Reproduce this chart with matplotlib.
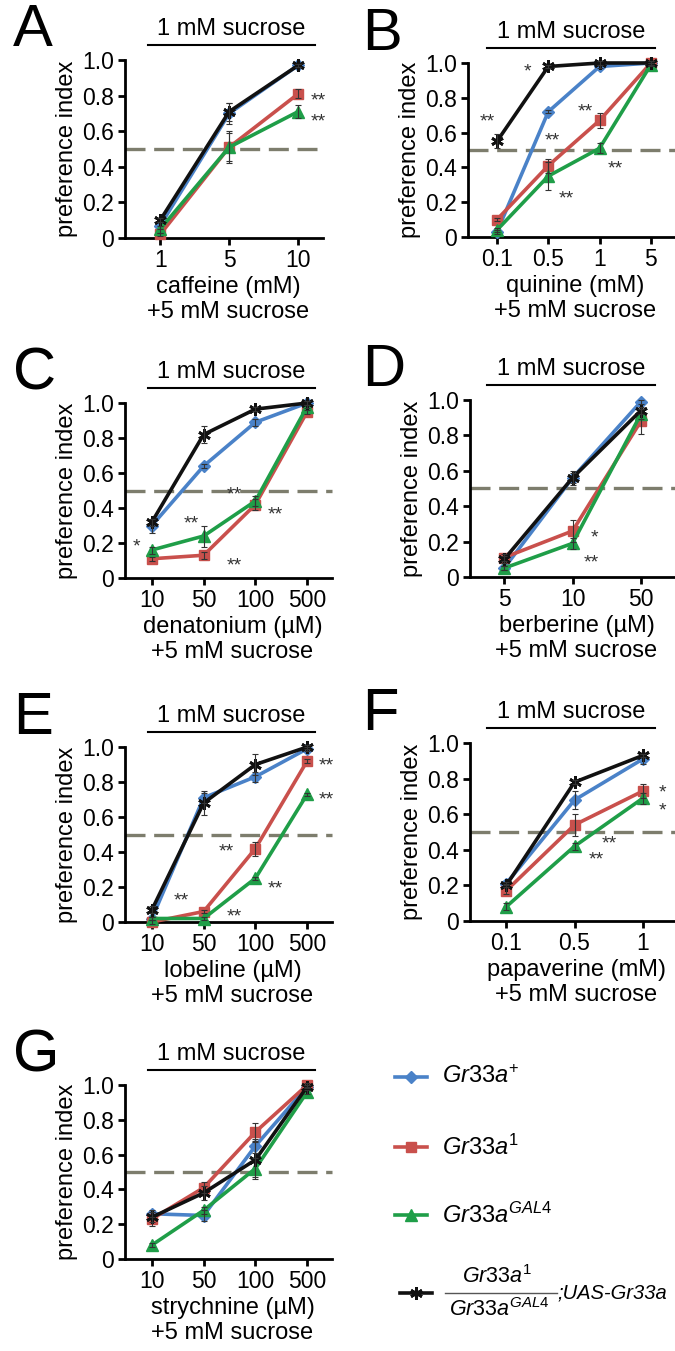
import numpy as np
import matplotlib
matplotlib.use('Agg')
import matplotlib.pyplot as plt

plt.rcParams['font.family'] = ['Liberation Sans', 'DejaVu Sans']
plt.rcParams['mathtext.fontset'] = 'custom'
plt.rcParams['mathtext.it'] = 'Liberation Sans:italic'
plt.rcParams['mathtext.rm'] = 'Liberation Sans'

W, H = 675, 1351

# colours of the four genotypes
c_wt, c_m1, c_gal4, c_res = '#4a82c8', '#c9504c', '#1f9e48', '#111111'

# ---- data (preference index), order: Gr33a+, Gr33a1, Gr33aGAL4, rescue ----
caf_doses = ['1', '5', '10']
caf_wt = [0.07, 0.70, 0.97]
caf_m1 = [0.02, 0.51, 0.81]
caf_gal4 = [0.05, 0.51, 0.71]
caf_res = [0.10, 0.71, 0.97]
caf_sem = [[0.02, 0.06, 0.01], [0.01, 0.09, 0.025], [0.02, 0.08, 0.035], [0.01, 0.05, 0.01]]

qui_doses = ['0.1', '0.5', '1', '5']
qui_wt = [0.03, 0.72, 0.98, 1.0]
qui_m1 = [0.10, 0.41, 0.67, 1.0]
qui_gal4 = [0.04, 0.35, 0.51, 0.99]
qui_res = [0.55, 0.98, 1.0, 1.0]
qui_sem = [[0.01, 0.01, 0.01, 0.0], [0.01, 0.04, 0.045, 0.01], [0.01, 0.08, 0.03, 0.01], [0.04, 0.01, 0.01, 0.01]]

den_doses = ['10', '50', '100', '500']
den_wt = [0.30, 0.64, 0.89, 1.0]
den_m1 = [0.11, 0.13, 0.42, 0.95]
den_gal4 = [0.16, 0.24, 0.44, 0.98]
den_res = [0.32, 0.82, 0.965, 1.0]
den_sem = [[0.04, 0.01, 0.02, 0.01], [0.01, 0.02, 0.03, 0.01], [0.02, 0.06, 0.03, 0.01], [0.02, 0.05, 0.01, 0.01]]

ber_doses = ['5', '10', '50']
ber_wt = [0.05, 0.56, 0.99]
ber_m1 = [0.11, 0.26, 0.88]
ber_gal4 = [0.05, 0.19, 0.92]
ber_res = [0.10, 0.56, 0.94]
ber_sem = [[0.01, 0.03, 0.01], [0.02, 0.06, 0.07], [0.01, 0.03, 0.03], [0.02, 0.04, 0.02]]

lob_doses = ['10', '50', '100', '500']
lob_wt = [0.02, 0.71, 0.83, 0.99]
lob_m1 = [0.0, 0.06, 0.42, 0.92]
lob_gal4 = [0.02, 0.02, 0.25, 0.73]
lob_res = [0.07, 0.68, 0.90, 1.0]
lob_sem = [[0.01, 0.03, 0.03, 0.01], [0.01, 0.01, 0.04, 0.01], [0.01, 0.01, 0.01, 0.01], [0.02, 0.07, 0.06, 0.01]]

pap_doses = ['0.1', '0.5', '1']
pap_wt = [0.21, 0.68, 0.91]
pap_m1 = [0.17, 0.54, 0.73]
pap_gal4 = [0.08, 0.42, 0.69]
pap_res = [0.20, 0.78, 0.93]
pap_sem = [[0.01, 0.05, 0.03], [0.02, 0.06, 0.04], [0.02, 0.02, 0.03], [0.01, 0.01, 0.01]]

str_doses = ['10', '50', '100', '500']
str_wt = [0.26, 0.25, 0.65, 0.99]
str_m1 = [0.23, 0.41, 0.73, 1.0]
str_gal4 = [0.08, 0.28, 0.52, 0.96]
str_res = [0.24, 0.38, 0.57, 0.99]
str_sem = [[0.02, 0.03, 0.04, 0.01], [0.04, 0.03, 0.05, 0.01], [0.01, 0.02, 0.06, 0.01], [0.03, 0.04, 0.10, 0.01]]

# significance marks (x in category index, y in preference index)
caf_stars = [(2.29, 0.77, '**'), (2.29, 0.65, '**')]
qui_stars = [(-0.19, 0.66, '**'), (0.60, 0.95, '*'), (1.07, 0.55, '**'),
             (1.72, 0.72, '**'), (2.30, 0.39, '**'), (1.36, 0.22, '**')]
den_stars = [(-0.29, 0.18, '*'), (0.77, 0.31, '**'), (1.6, 0.475, '**'),
             (2.38, 0.36, '**'), (1.6, 0.066, '**')]
ber_stars = [(1.32, 0.22, '*'), (1.27, 0.08, '**')]
lob_stars = [(3.37, 0.89, '**'), (3.37, 0.70, '**'), (1.43, 0.40, '**'),
             (2.38, 0.19, '**'), (0.57, 0.12, '**'), (1.6, 0.03, '**')]
pap_stars = [(2.29, 0.72, '*'), (2.29, 0.62, '*'), (1.51, 0.43, '**'), (1.32, 0.345, '**')]
str_stars = []

# ---- layout: letter, axes box in px (left, top, right, bottom), xlim ----
panels = [
    ('A', (125, 60, 323, 238), (-0.51, 2.36), caf_doses, [caf_wt, caf_m1, caf_gal4, caf_res], caf_sem, 'caffeine (mM)', caf_stars),
    ('B', (468, 63, 675, 237), (-0.565, 3.47), qui_doses, [qui_wt, qui_m1, qui_gal4, qui_res], qui_sem, 'quinine (mM)', qui_stars),
    ('C', (125, 403, 332, 578), (-0.52, 3.48), den_doses, [den_wt, den_m1, den_gal4, den_res], den_sem, 'denatonium (µM)', den_stars),
    ('D', (470, 400, 675, 577), (-0.50, 2.50), ber_doses, [ber_wt, ber_m1, ber_gal4, ber_res], ber_sem, 'berberine (µM)', ber_stars),
    ('E', (125, 747, 332, 922), (-0.52, 3.48), lob_doses, [lob_wt, lob_m1, lob_gal4, lob_res], lob_sem, 'lobeline (µM)', lob_stars),
    ('F', (470, 743, 675, 921), (-0.53, 2.47), pap_doses, [pap_wt, pap_m1, pap_gal4, pap_res], pap_sem, 'papaverine (mM)', pap_stars),
    ('G', (125, 1085, 332, 1259), (-0.52, 3.48), str_doses, [str_wt, str_m1, str_gal4, str_res], str_sem, 'strychnine (µM)', str_stars),
]

styles = [
    dict(color=c_wt, marker='D', ms=6),
    dict(color=c_m1, marker='s', ms=7),
    dict(color=c_gal4, marker='^', ms=8),
    dict(color=c_res, marker=(6, 2, 0), ms=9, mew=2),
]

fig = plt.figure(figsize=(W / 100, H / 100), dpi=100)

# overlay axes in pixel units for the decorations
ov = fig.add_axes([0, 0, 1, 1])
ov.set_xlim(0, W)
ov.set_ylim(H, 0)
ov.axis('off')
ov.set_zorder(10)

for letter, (l, t, r, b), xlim, doses, series, sems, xlab, stars in panels:
    ax = fig.add_axes([l / W, 1 - b / H, (r - l) / W, (b - t) / H])
    xs = np.arange(len(doses))
    for vals, sem, st in zip(series, sems, styles):
        ax.plot(xs, vals, lw=2.6, mec=st['color'], clip_on=False, zorder=3, **st)
        ax.errorbar(xs, vals, yerr=sem, fmt='none', ecolor='#333333', elinewidth=0.8,
                    capsize=2.5, capthick=0.8, clip_on=False, zorder=4)
    ax.axhline(0.5, color='#7d7d6d', lw=2.4, dashes=(6, 2.6), zorder=2, clip_on=False)
    for sx, sy, s in stars:
        ax.text(sx, sy, s, ha='center', va='center', fontsize=14, color='#333333')
    ax.set_xlim(*xlim)
    ax.set_ylim(0, 1.0)
    ax.set_xticks(xs, doses)
    ax.set_yticks([0, 0.2, 0.4, 0.6, 0.8, 1.0], ['0', '0.2', '0.4', '0.6', '0.8', '1.0'])
    for side in ['top', 'right']:
        ax.spines[side].set_visible(False)
    for side in ['left', 'bottom']:
        ax.spines[side].set_linewidth(2)
    ax.tick_params(direction='out', length=5, width=2, labelsize=16.5, pad=3)
    ax.set_ylabel('preference index', fontsize=17, labelpad=3)
    ax.patch.set_alpha(0)

    # decorations around the panel
    bx0, bx1 = (148, 315) if l < 300 else (487, 655)
    ov.plot([bx0, bx1], [t - 15, t - 15], color='black', lw=1.5)
    ov.text((bx0 + bx1) / 2, t - 31, '1 mM sucrose', ha='center', va='center', fontsize=17)
    lx = 13 if l < 300 else 362
    ov.text(lx, t - 29, letter, ha='left', va='center', fontsize=43)
    cx = (l + r) / 2 + 4
    ov.text(cx, b + 49, xlab, ha='center', va='center', fontsize=17)
    ov.text(cx, b + 74, '+5 mM sucrose', ha='center', va='center', fontsize=17)

# legend, drawn by hand
leg_labels = [r'$\mathit{Gr33a}^{+}$', r'$\mathit{Gr33a}^{1}$', r'$\mathit{Gr33a}^{GAL4}$']
leg_y = [1077, 1147, 1215]
for st, lab, yy in zip(styles[:3], leg_labels, leg_y):
    ov.plot([395, 427], [yy, yy], color=st['color'], lw=2.6)
    ov.plot([411], [yy], ls='none', marker=st['marker'], ms=st['ms'], color=st['color'])
    ov.text(442, yy, lab, ha='left', va='center', fontsize=17)
ov.plot([400, 432], [1293, 1293], color=c_res, lw=2.6)
ov.plot([416], [1293], ls='none', marker=styles[3]['marker'], ms=9, mew=2, color=c_res)
ov.plot([445, 557], [1293, 1293], color='#555555', lw=1)
ov.text(497, 1277, r'$\mathit{Gr33a}^{1}$', ha='center', va='center', fontsize=15.5)
ov.text(499, 1310, r'$\mathit{Gr33a}^{GAL4}$', ha='center', va='center', fontsize=15.5)
ov.text(558, 1293, ';UAS-Gr33a', ha='left', va='center', fontsize=14.5, style='italic')

fig.savefig('out.png', dpi=100)
